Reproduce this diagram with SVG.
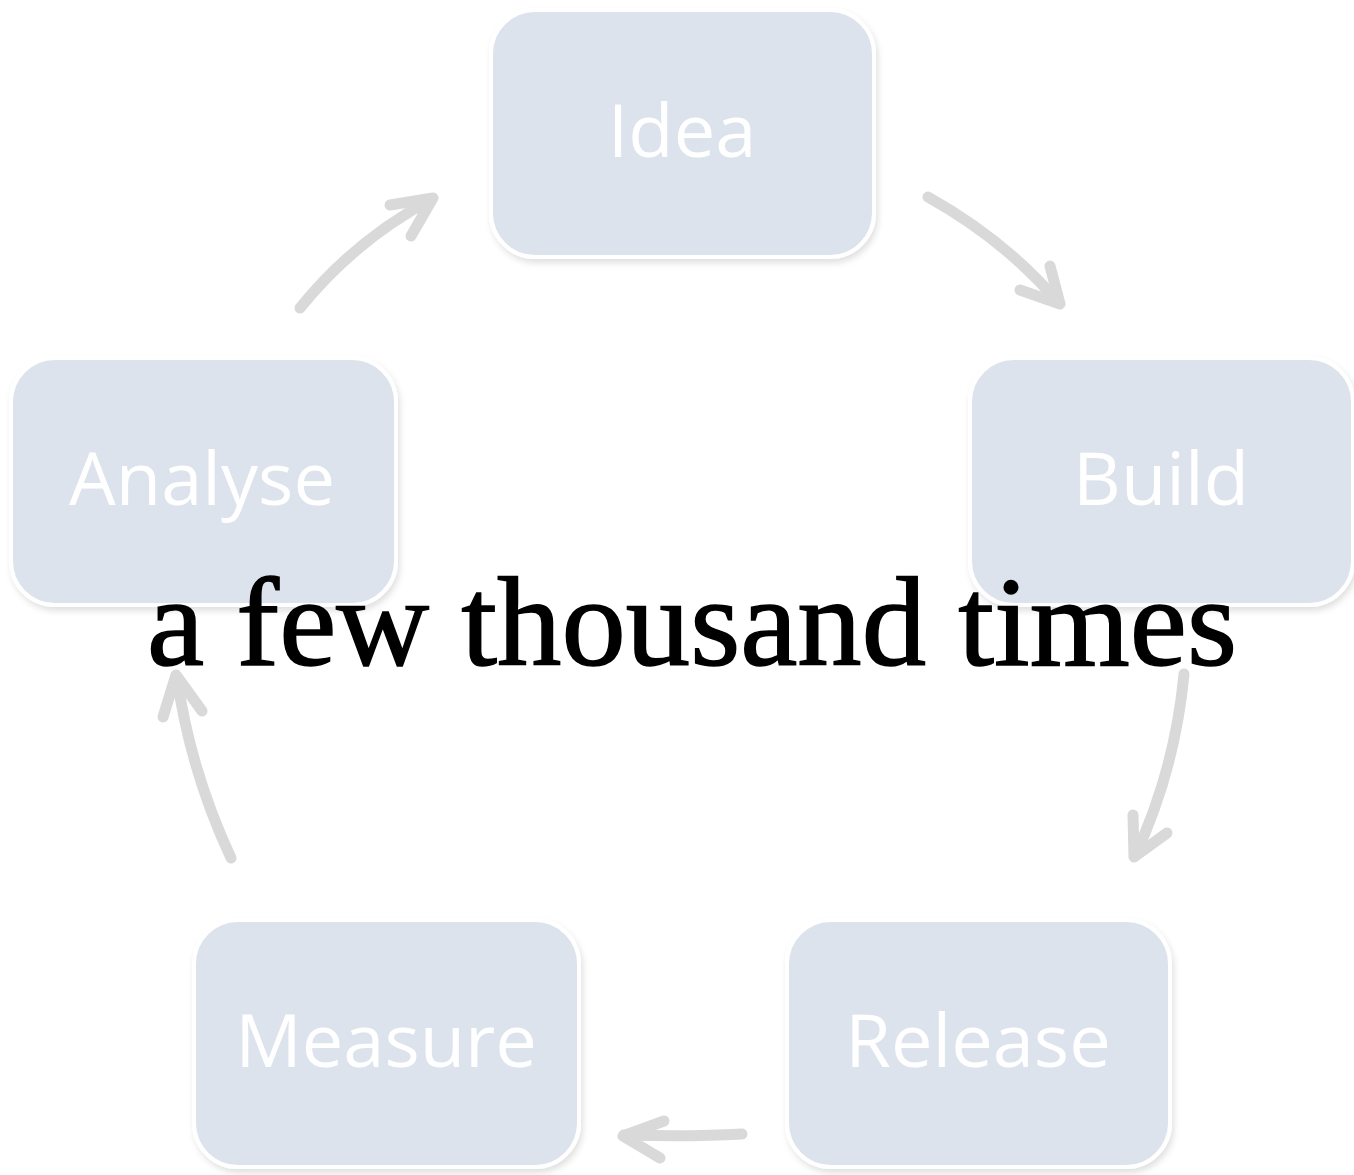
<svg xmlns="http://www.w3.org/2000/svg" width="1354" height="1175" viewBox="0 0 1354 1175">
<defs>
<filter id="sh" x="-10%" y="-10%" width="120%" height="125%">
<feDropShadow dx="2" dy="4" stdDeviation="3" flood-color="#000" flood-opacity="0.12"/>
</filter>
</defs>
<style>
.box{fill:#dce3ec;stroke:#ffffff;stroke-width:4;filter:url(#sh)}
.lbl{font-family:"Open Sans","Liberation Sans",sans-serif;font-size:74px;fill:#ffffff;text-anchor:middle}
.arr{fill:none;stroke:#d9d9d9;stroke-width:11;stroke-linecap:round;stroke-linejoin:round}
.big{font-family:"Liberation Serif","DejaVu Serif",serif;font-size:128px;fill:#000;stroke:#000;stroke-width:1.5}
</style>
<rect width="1354" height="1175" fill="#ffffff"/>
<g id="connectors">
<path class="arr" d="M928,197 Q1005,240 1058,302"/>
<path class="arr" d="M1020,290 L1060,304 L1050,266"/>
<path class="arr" d="M1184,674 Q1175,770 1135,856"/>
<path class="arr" d="M1133,815 L1134,857 L1167,833"/>
<path class="arr" d="M742,1134 Q690,1137 624,1135"/>
<path class="arr" d="M664,1121 L623,1136 L660,1158"/>
<path class="arr" d="M231,858 Q190,770 177,677"/>
<path class="arr" d="M163,717 L176,675 L202,711"/>
<path class="arr" d="M300,308 Q355,240 432,199"/>
<path class="arr" d="M390,205 L433,198 L411,236"/>
</g>
<g id="idea"><rect class="box" x="491" y="10" width="383" height="247" rx="44"/><text class="lbl" x="682" y="157">Idea</text></g>
<g id="build"><rect class="box" x="970" y="358" width="383" height="247" rx="44"/><text class="lbl" x="1161" y="505">Build</text></g>
<g id="analyse"><rect class="box" x="11" y="358" width="385" height="247" rx="44"/><text class="lbl" x="202" y="505">Analyse</text></g>
<g id="measure"><rect class="box" x="194" y="920" width="385" height="247" rx="44"/><text class="lbl" x="386" y="1067">Measure</text></g>
<g id="release"><rect class="box" x="787" y="920" width="383" height="247" rx="44"/><text class="lbl" x="978" y="1067">Release</text></g>
<g id="caption"><text class="big" x="147" y="665" textLength="1090" lengthAdjust="spacingAndGlyphs">a few thousand times</text></g>
</svg>
